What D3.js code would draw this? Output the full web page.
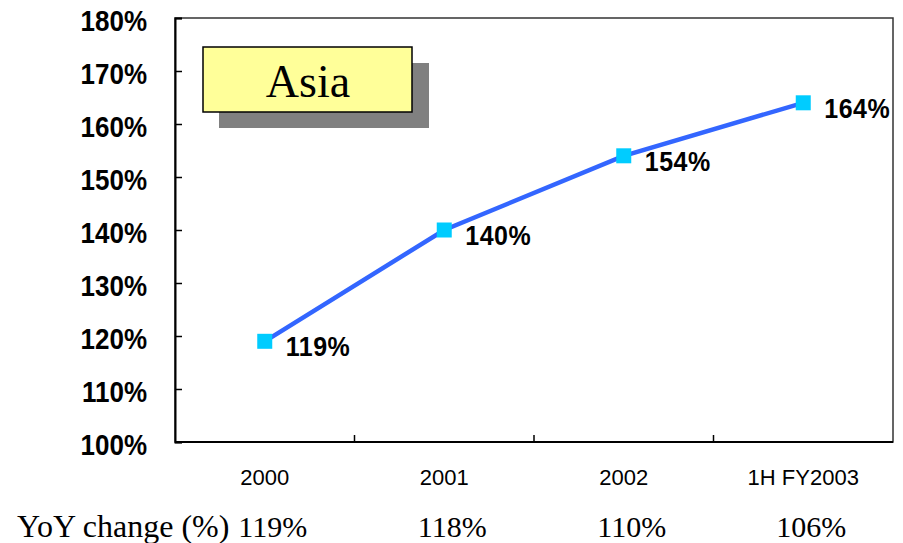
<!DOCTYPE html>
<html>
<head>
<meta charset="utf-8">
<script src="https://cdn.jsdelivr.net/npm/d3@7"></script>
<style>
  body { margin: 0; background: #fff; }
  svg { display: block; }
</style>
</head>
<body>
<div id="chart"></div>
<script>
// data
var categories = ["2000", "2001", "2002", "1H FY2003"];
var values = [119, 140, 154, 164];          // line values (%)
var yoyChange = ["119%", "118%", "110%", "106%"];
var yTicks = [100, 110, 120, 130, 140, 150, 160, 170, 180];
var title = "Asia";

var width = 903, height = 543;
var plot = { left: 175, top: 18, right: 893, bottom: 442 };

var svg = d3.select("#chart").append("svg")
    .attr("width", width)
    .attr("height", height);

var x = d3.scaleBand()
    .domain(categories)
    .range([plot.left, plot.right]);

var y = d3.scaleLinear()
    .domain([100, 180])
    .range([plot.bottom, plot.top]);

//plot frame (top and right edges)
svg.append("rect")
    .attr("x", plot.left)
    .attr("y", plot.top)
    .attr("width", plot.right - plot.left)
    .attr("height", plot.bottom - plot.top)
    .attr("fill", "none")
    .attr("stroke", "#333")
    .attr("stroke-width", 1.5);

//y axis, ticks pointing into the plot
var yAxis = svg.append("g")
    .attr("transform", "translate(" + plot.left + ",0)")
    .call(d3.axisRight(y).tickValues(yTicks).tickSize(7).tickFormat(""));
yAxis.select(".domain").attr("stroke", "#000").attr("stroke-width", 2);
yAxis.selectAll(".tick line").attr("stroke", "#000").attr("stroke-width", 1.5);

svg.append("g").selectAll("text")
    .data(yTicks)
    .enter().append("text")
    .attr("transform", function (d) { return "translate(147," + (y(d) + 13) + ") scale(1,1.12)"; })
    .attr("text-anchor", "end")
    .style("font-family", "Liberation Sans, Arial, sans-serif")
    .style("font-weight", "bold")
    .style("font-size", "26px")
    .text(function (d) { return d + "%"; });

//x axis: ticks between categories
var xAxis = svg.append("g")
    .attr("transform", "translate(0," + plot.bottom + ")");
xAxis.append("line")
    .attr("x1", plot.left).attr("x2", plot.right)
    .attr("stroke", "#000").attr("stroke-width", 2);
xAxis.selectAll(".tick")
    .data(categories.slice(1))
    .enter().append("line")
    .attr("x1", function (d) { return x(d); })
    .attr("x2", function (d) { return x(d); })
    .attr("y1", 0).attr("y2", -7)
    .attr("stroke", "#000").attr("stroke-width", 1.5);

svg.append("g").selectAll("text")
    .data(categories)
    .enter().append("text")
    .attr("x", function (d) { return x(d) + x.bandwidth() / 2; })
    .attr("y", 485)
    .attr("text-anchor", "middle")
    .style("font-family", "Liberation Sans, Arial, sans-serif")
    .style("font-size", "22px")
    .text(function (d) { return d; });

//YoY row
var serif = "Liberation Serif, Times New Roman, serif";
svg.append("text")
    .attr("x", 17).attr("y", 537)
    .style("font-family", serif)
    .style("font-size", "32px")
    .text("YoY change (%)");

svg.append("g").selectAll("text")
    .data(yoyChange)
    .enter().append("text")
    .attr("x", function (d, i) { return x(categories[i]) + x.bandwidth() / 2 + 8; })
    .attr("y", 537)
    .attr("text-anchor", "middle")
    .style("font-family", serif)
    .style("font-size", "30px")
    .text(function (d) { return d; });

//line
var line = d3.line()
    .x(function (d, i) { return x(categories[i]) + x.bandwidth() / 2; })
    .y(function (d) { return y(d); });

svg.append("path")
    .datum(values)
    .attr("d", line)
    .attr("fill", "none")
    .attr("stroke", "#3366FF")
    .attr("stroke-width", 4.5);

var msize = 15;
svg.append("g").selectAll("rect")
    .data(values)
    .enter().append("rect")
    .attr("x", function (d, i) { return x(categories[i]) + x.bandwidth() / 2 - msize / 2; })
    .attr("y", function (d) { return y(d) - msize / 2; })
    .attr("width", msize)
    .attr("height", msize)
    .attr("fill", "#00CCFF");

//data labels
svg.append("g").selectAll("text")
    .data(values)
    .enter().append("text")
    .attr("transform", function (d, i) {
        return "translate(" + (x(categories[i]) + x.bandwidth() / 2 + 21) + "," + (y(d) + 15) + ") scale(1,1.1)";
    })
    .style("font-family", "Liberation Sans, Arial, sans-serif")
    .style("font-weight", "bold")
    .style("font-size", "25px")
    .style("letter-spacing", "0.5px")
    .text(function (d) { return d + "%"; });

//title box with shadow
var box = svg.append("g");
box.append("rect")
    .attr("x", 219).attr("y", 63)
    .attr("width", 210).attr("height", 65)
    .attr("fill", "#808080");
box.append("rect")
    .attr("x", 203).attr("y", 47)
    .attr("width", 209).attr("height", 65)
    .attr("fill", "#FFFF99")
    .attr("stroke", "#000")
    .attr("stroke-width", 1.5);
box.append("text")
    .attr("x", 308).attr("y", 97)
    .attr("text-anchor", "middle")
    .style("font-family", serif)
    .style("font-size", "46px")
    .text(title);
</script>
</body>
</html>
